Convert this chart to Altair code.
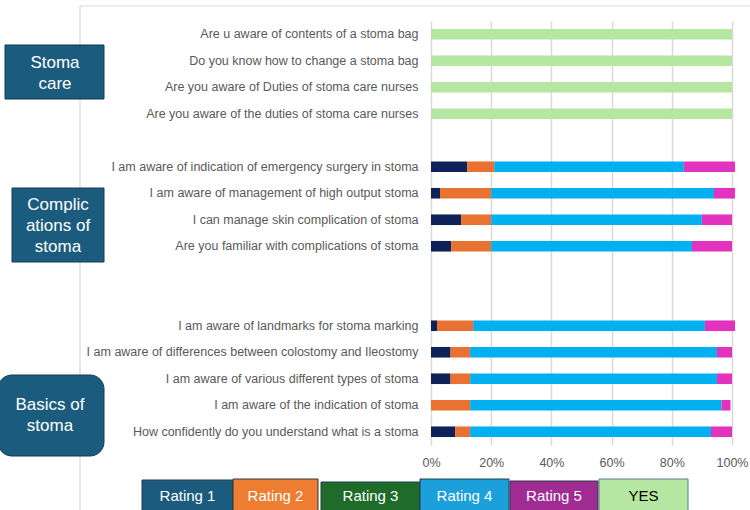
import altair as alt
import pandas as pd

# Survey items, top to bottom; blank entries leave gaps between sections
stoma_care = [
    "Are u aware of contents of a stoma bag",
    "Do you know how to change a stoma bag",
    "Are you aware of Duties of stoma care nurses",
    "Are you aware of the duties of stoma care nurses",
]
complications = [
    "I am aware of indication of emergency surgery in stoma",
    "I am aware of management of high output stoma",
    "I can manage skin complication of stoma",
    "Are you familiar with complications of stoma",
]
basics = [
    "I am aware of landmarks for stoma marking",
    "I am aware of differences between colostomy and Ileostomy",
    "I am aware of various different types of stoma",
    "I am aware of the indication of stoma",
    "How confidently do you understand what is a stoma",
]
row_order = stoma_care + [" "] + complications + ["  ", "   "] + basics

categories = ["Rating 1", "Rating 2", "Rating 3", "Rating 4", "Rating 5", "YES"]

# Percentages per item (Rating 1..5, YES)
yes_care = [100, 100, 100, 100]
r1_comp = [12, 3, 10, 6.7]
r2_comp = [9, 17, 10, 13.3]
r4_comp = [63, 74, 70, 66.7]
r5_comp = [17, 7, 10, 13.3]
r1_basic = [2, 6.5, 6.5, 0, 8]
r2_basic = [12, 6.5, 6.5, 13, 5]
r4_basic = [77, 82, 82, 83.5, 80]
r5_basic = [10, 5, 5, 3, 7]

bar_colors = ["#0e2159", "#e97132", "#196b24", "#00b0f0", "#e332bd", "#b5e6a2"]
legend_fill = ["#1b5c7e", "#ed7d31", "#1e6b2a", "#1ca0dc", "#a02b93", "#b5e6a2"]
legend_text = ["white", "white", "white", "white", "white", "black"]

rows = []
for q, v in zip(stoma_care, yes_care):
    rows.append((q, "YES", v))
for i, q in enumerate(complications):
    for cat, arr in zip(["Rating 1", "Rating 2", "Rating 4", "Rating 5"],
                        [r1_comp, r2_comp, r4_comp, r5_comp]):
        rows.append((q, cat, arr[i]))
for i, q in enumerate(basics):
    for cat, arr in zip(["Rating 1", "Rating 2", "Rating 4", "Rating 5"],
                        [r1_basic, r2_basic, r4_basic, r5_basic]):
        rows.append((q, cat, arr[i]))

df = pd.DataFrame(rows, columns=["question", "rating", "pct"])
df["share"] = df["pct"] / 100
df["order"] = df["rating"].map({c: i for i, c in enumerate(categories)})

W, H = 301, 424
FONT = "Liberation Sans"

bars = alt.Chart(df).mark_bar().encode(
    y=alt.Y("question:N", sort=row_order,
            scale=alt.Scale(domain=row_order, paddingInner=0.6, paddingOuter=0.3),
            axis=alt.Axis(title=None, domain=False, ticks=False, labelPadding=13,
                          labelFontSize=12.5, labelColor="#595959", labelFont=FONT,
                          labelLimit=420, grid=False)),
    x=alt.X("share:Q", stack="zero",
            scale=alt.Scale(domain=[0, 1], nice=False, clamp=False),
            axis=alt.Axis(title=None, format=".0%", values=[0, 0.2, 0.4, 0.6, 0.8, 1.0],
                          domain=False, ticks=False, labelPadding=11, labelFlush=False,
                          labelFontSize=12.5, labelColor="#595959", labelFont=FONT,
                          grid=True, gridColor="#d9d9d9", gridWidth=1.5)),
    color=alt.Color("rating:N", scale=alt.Scale(domain=categories, range=bar_colors),
                    legend=None),
    order=alt.Order("order:Q"),
)

one = pd.DataFrame({"k": [0]})
layers = []

# Outer chart frame (left and top edges)
frame_color = "#d9d9d9"
layers.append(alt.Chart(one).mark_rule(color=frame_color, strokeWidth=1.2).encode(
    x=alt.value(-351), y=alt.value(-15), y2=alt.value(500)))
layers.append(alt.Chart(one).mark_rule(color=frame_color, strokeWidth=1.2).encode(
    x=alt.value(-351), x2=alt.value(330), y=alt.value(-15)))

layers.append(bars)

# Section boxes on the left (text y is the first line's centre)
box_fill = "#1b5c7e"
box_stroke = "#0f3d55"
sections = [
    ("Stoma\ncare", -426, -327, 24, 78, 0, -376, 42),
    ("Complic\nations of\nstoma", -419, -327, 167, 241, 0, -373, 184),
    ("Basics of\nstoma", -433, -327, 354, 435, 14, -381, 384),
]
for label, x1, x2, y1, y2, rad, tx, ty in sections:
    layers.append(alt.Chart(one).mark_rect(
        fill=box_fill, stroke=box_stroke, strokeWidth=1, cornerRadius=rad).encode(
        x=alt.value(x1), x2=alt.value(x2), y=alt.value(y1), y2=alt.value(y2)))
    layers.append(alt.Chart(one).mark_text(
        color="white", fontSize=17, font=FONT, lineBreak="\n", lineHeight=21,
        align="center", baseline="middle").encode(
        x=alt.value(tx), y=alt.value(ty), text=alt.value(label)))

# Legend strip along the bottom
legend_boxes = [(-289, -198, 459), (-198, -113, 458), (-110, -11, 461),
                (-11, 78, 458), (79, 167, 460), (168, 257, 458)]
for cat, fill, tcol, (x1, x2, y1) in zip(categories, legend_fill, legend_text, legend_boxes):
    layers.append(alt.Chart(one).mark_rect(
        fill=fill, stroke="#5a7d93" if cat == "YES" else "#243b4a", strokeWidth=1).encode(
        x=alt.value(x1), x2=alt.value(x2), y=alt.value(y1), y2=alt.value(495)))
    layers.append(alt.Chart(one).mark_text(
        color=tcol, fontSize=15, font=FONT, align="center", baseline="middle").encode(
        x=alt.value((x1 + x2) / 2), y=alt.value(475), text=alt.value(cat)))

chart = alt.layer(*layers).properties(
    width=W, height=H,
    autosize=alt.AutoSizeParams(type="none"),
    padding={"left": 431, "top": 21, "right": 18, "bottom": 65},
    background="white",
).configure_view(strokeWidth=0)

chart.save("out.html", embed_options={"renderer": "svg", "actions": False})
